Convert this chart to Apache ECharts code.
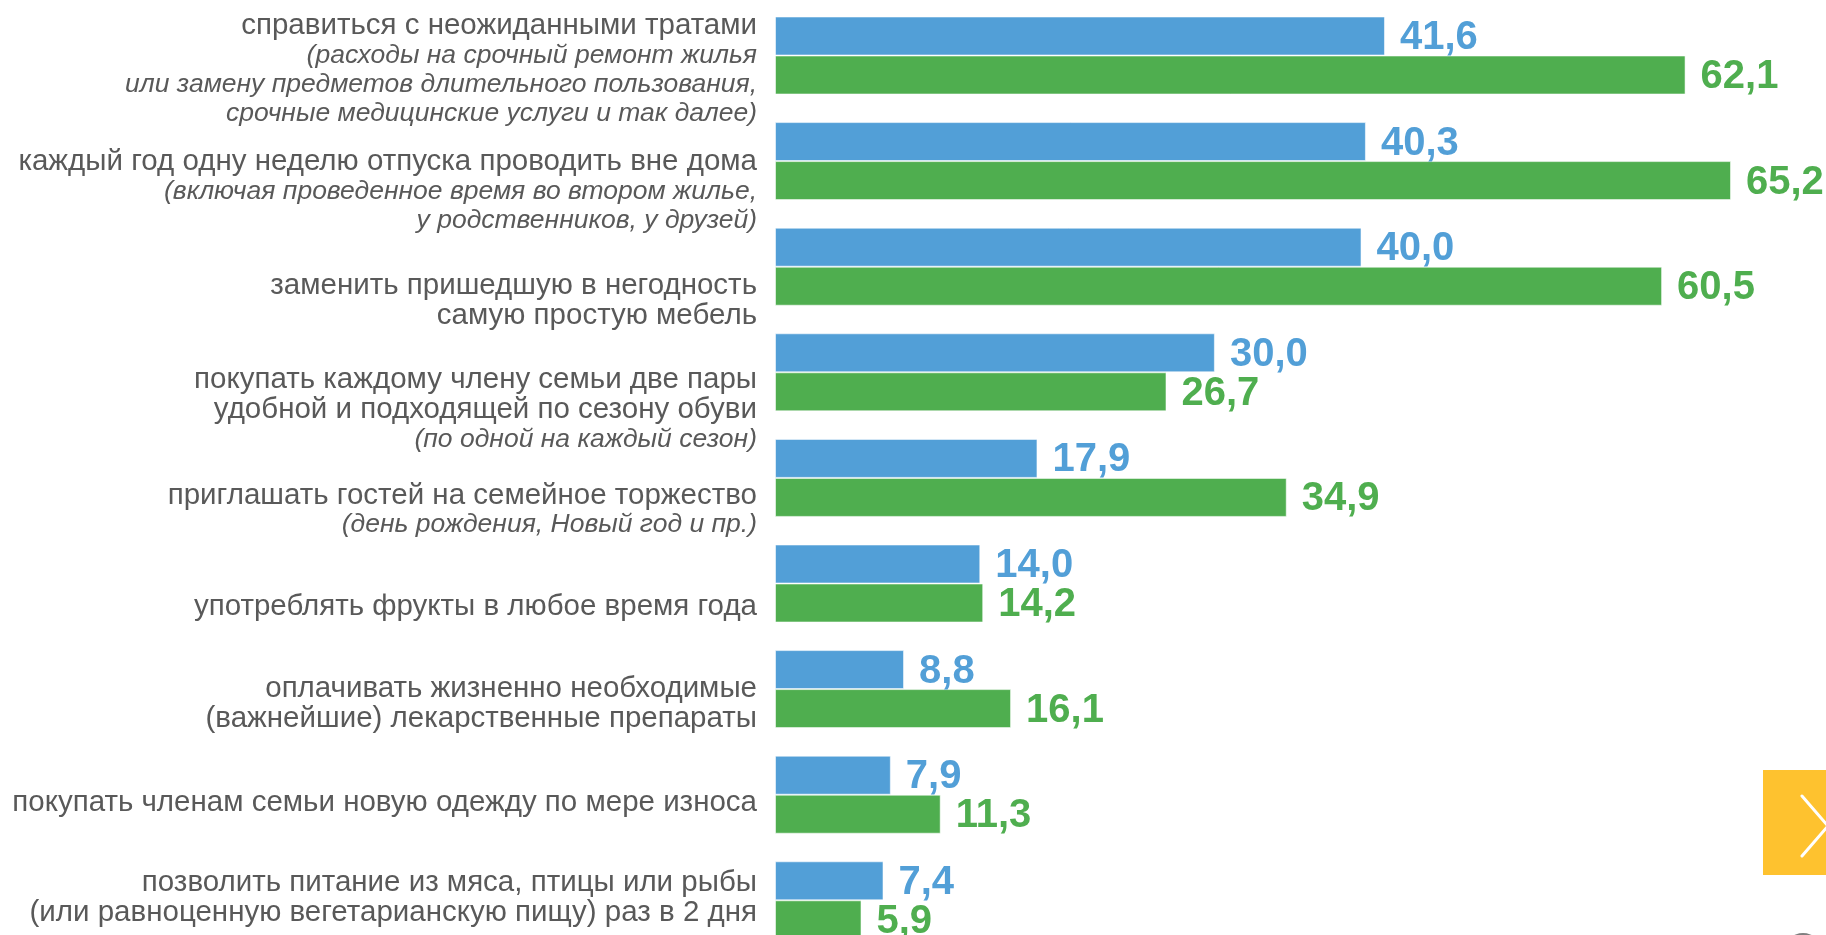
<!DOCTYPE html>
<html>
<head>
<meta charset="utf-8">
<script src="https://cdn.jsdelivr.net/npm/echarts@6/dist/echarts.min.js"></script>
<style>
  html, body { margin: 0; padding: 0; background: #fff; overflow: hidden; }
  /* taller than the window on purpose: the last bar group is cut off at the bottom */
  #chart { width: 1826px; height: 960px; }
</style>
</head>
<body>
<div id="chart"></div>
<script>
// main label lines per category
const categories = [
  ['справиться с неожиданными тратами'],
  ['каждый год одну неделю отпуска проводить вне дома'],
  ['заменить пришедшую в негодность', 'самую простую мебель'],
  ['покупать каждому члену семьи две пары', 'удобной и подходящей по сезону обуви'],
  ['приглашать гостей на семейное торжество'],
  ['употреблять фрукты в любое время года'],
  ['оплачивать жизненно необходимые', '(важнейшие) лекарственные препараты'],
  ['покупать членам семьи новую одежду по мере износа'],
  ['позволить питание из мяса, птицы или рыбы', '(или равноценную вегетарианскую пищу) раз в 2 дня']
]
// italic notes under the main lines
const notes = [
  ['(расходы на срочный ремонт жилья', 'или замену предметов длительного пользования,', 'срочные медицинские услуги и так далее)'],
  ['(включая проведенное время во втором жилье,', 'у родственников, у друзей)'],
  [],
  ['(по одной на каждый сезон)'],
  ['(день рождения, Новый год и пр.)'],
  [],
  [],
  [],
  []
]
const blueValues = [41.6, 40.3, 40.0, 30.0, 17.9, 14.0, 8.8, 7.9, 7.4]
const greenValues = [62.1, 65.2, 60.5, 26.7, 34.9, 14.2, 16.1, 11.3, 5.9]

// the text blocks in the original sit a bit lower than the bar groups
const labelShift = [14, 30, 34, 37, 32, 23, 15, 8, -2]

const fmt = (v) => v.toFixed(1).replace('.', ',')

const yData = categories.map((lines, i) => {
  const d = labelShift[i]
  return {
    value: String(i),
    textStyle: { padding: d >= 0 ? [2 * d, 0, 0, 0] : [0, 0, -2 * d, 0] }
  }
})

const valueLabel = (color) => ({
  show: true,
  position: 'right',
  distance: 15,
  offset: [0, 2],
  formatter: (p) => fmt(p.value),
  color: color,
  fontFamily: 'Liberation Sans',
  fontWeight: 'bold',
  fontSize: 40
})

const option = {
  animation: false,
  backgroundColor: '#fff',
  grid: { left: 775, top: 2.7, width: 1026.4, height: 950.4 },
  xAxis: {
    type: 'value',
    min: 0,
    max: 70,
    show: false
  },
  yAxis: {
    type: 'category',
    inverse: true,
    data: yData,
    axisLine: { show: false },
    axisTick: { show: false },
    axisLabel: {
      margin: 18,
      align: 'right',
      formatter: (value) => {
        const i = Number(value)
        const parts = categories[i].map((t) => '{m|' + t + '}')
          .concat(notes[i].map((t) => '{i|' + t + '}'))
        return parts.join('\n')
      },
      rich: {
        m: {
          fontFamily: 'Liberation Sans',
          fontSize: 29.5,
          lineHeight: 30,
          color: '#595959',
          align: 'right'
        },
        i: {
          fontFamily: 'Liberation Sans',
          fontStyle: 'italic',
          fontSize: 26.5,
          lineHeight: 29,
          color: '#595959',
          align: 'right'
        }
      }
    }
  },
  series: [
    {
      name: 'Ряд 1',
      type: 'bar',
      data: blueValues,
      barWidth: 39,
      barGap: '0%',
      itemStyle: { color: '#529fd7', borderColor: 'rgba(255,255,255,0.55)', borderWidth: 1 },
      label: valueLabel('#529fd7')
    },
    {
      name: 'Ряд 2',
      type: 'bar',
      data: greenValues,
      barWidth: 39,
      barGap: '0%',
      itemStyle: { color: '#4fae4f', borderColor: 'rgba(255,255,255,0.55)', borderWidth: 1 },
      label: valueLabel('#4fae4f')
    }
  ],
  graphic: [
    {
      type: 'rect',
      shape: { x: 1763, y: 770, width: 70, height: 105 },
      style: { fill: '#fec22f' }
    },
    {
      type: 'polyline',
      shape: { points: [[1802, 796], [1828, 826], [1802, 856]] },
      style: { stroke: '#fff', lineWidth: 3, lineCap: 'round', lineJoin: 'round', fill: null }
    },
    {
      type: 'circle',
      shape: { cx: 1803, cy: 952, r: 19 },
      style: { fill: '#7f7f7f' }
    }
  ]
}

const myChart = echarts.init(document.getElementById('chart'))
myChart.setOption(option)
</script>
</body>
</html>
